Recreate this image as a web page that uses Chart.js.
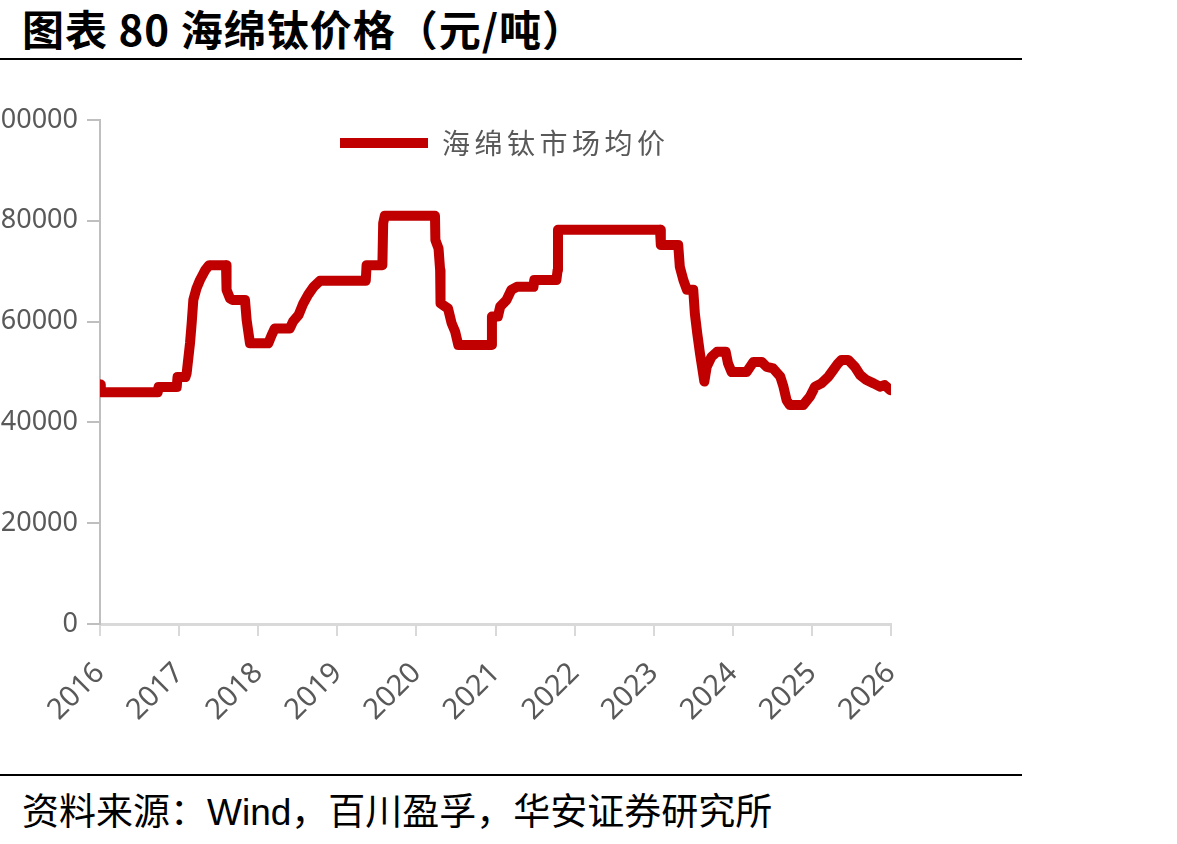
<!DOCTYPE html>
<html>
<head>
<meta charset="utf-8">
<script src="https://cdn.jsdelivr.net/npm/chart.js@4/dist/chart.umd.min.js"></script>
<style>
  html, body { margin: 0; padding: 0; background: #ffffff; }
  body { width: 1177px; height: 844px; position: relative; overflow: hidden; }
  #title { position: absolute; left: 22px; top: 7px; font: bold 42px "Noto Sans CJK SC", sans-serif; line-height: 42px; color: #000; white-space: nowrap; letter-spacing: 1px; }
  .rule { position: absolute; left: 0; width: 1022px; height: 2px; background: #000; }
  #wrap { position: absolute; left: -30px; top: 70px; width: 990px; height: 700px; }
  #footer { position: absolute; left: 22px; top: 791px; font: 37px "Noto Sans CJK SC", sans-serif; line-height: 37px; color: #000; white-space: nowrap; }
  #footer .lat { font-family: "Liberation Sans", sans-serif; }
</style>
</head>
<body>
<div id="title">图表 80 海绵钛价格（元/吨）</div>
<div class="rule" style="top:58px"></div>
<div id="wrap"><canvas id="c" width="990" height="700"></canvas></div>
<div class="rule" style="top:774px"></div>
<div id="footer">资料来源：<span class="lat">Wind</span>，百川盈孚，华安证券研究所</div>
<script>
// ---- data ----
const seriesName = '海绵钛市场均价';
const yearTicks = ['2016','2017','2018','2019','2020','2021','2022','2023','2024','2025','2026'];
const yTicks = [0, 20000, 40000, 60000, 80000, 100000];
const dates = [
  2016.00, 2016.01, 2016.73, 2016.74, 2016.97, 2016.98, 2017.08, 2017.095, 2017.138, 2017.159,
  2017.18, 2017.22, 2017.264, 2017.33, 2017.38, 2017.593, 2017.60, 2017.643, 2017.676, 2017.833,
  2017.854, 2017.875, 2017.896, 2018.128, 2018.17, 2018.21, 2018.40, 2018.44, 2018.51, 2018.57,
  2018.63, 2018.70, 2018.78, 2019.36, 2019.37, 2019.57, 2019.58, 2019.60, 2020.235, 2020.24,
  2020.28, 2020.30, 2020.305, 2020.40, 2020.445, 2020.49, 2020.53, 2020.95, 2020.955, 2021.03,
  2021.06, 2021.14, 2021.20, 2021.27, 2021.48, 2021.49, 2021.77, 2021.785, 2021.79, 2023.08,
  2023.09, 2023.31, 2023.33, 2023.375, 2023.42, 2023.50, 2023.52, 2023.55, 2023.585, 2023.64,
  2023.67, 2023.73, 2023.80, 2023.91, 2023.94, 2023.985, 2024.175, 2024.26, 2024.365, 2024.43,
  2024.51, 2024.60, 2024.64, 2024.68, 2024.72, 2024.89, 2024.975, 2025.04, 2025.12, 2025.21,
  2025.27, 2025.33, 2025.375, 2025.46, 2025.545, 2025.61, 2025.69, 2025.78, 2025.86, 2025.92,
  2025.99
];
const prices = [
  47500, 46000, 46000, 47000, 47000, 49000, 49000, 49700, 55700, 59700,
  64300, 66600, 68250, 70200, 71200, 71200, 66300, 64600, 64300, 64300,
  60300, 58000, 55700, 55700, 57300, 58650, 58650, 60000, 61300, 63600,
  65300, 66900, 68100, 68100, 71200, 71200, 79500, 81000, 81000, 76200,
  74500, 70200, 63600, 62600, 59700, 58000, 55350, 55350, 61000, 61000,
  63000, 64300, 66300, 66900, 66900, 68250, 68250, 70200, 78200, 78200,
  75200, 75200, 70900, 68250, 66300, 66300, 61650, 57700, 53700, 48100,
  51000, 53000, 54000, 54000, 51700, 50000, 50000, 52000, 52000, 51000,
  50700, 49100, 47100, 44400, 43450, 43450, 45100, 47100, 47750, 49100,
  50400, 51700, 52400, 52400, 51000, 49400, 48400, 47750, 47100, 47400,
  46400
];

const points = dates.map((d, i) => ({ x: d, y: prices[i] }));

// legend: letter spacing + placement near the top of the plot
const legendSpacing = {
  id: 'legendSpacing',
  afterInit(chart) {
    const lg = chart.legend;
    if (!lg) return;
    const fit = lg.fit.bind(lg), draw = lg.draw.bind(lg);
    lg.fit = function () {
      const c = chart.ctx; c.save(); c.letterSpacing = '4.5px'; fit(); c.restore();
    };
    lg.draw = function () {
      const c = chart.ctx; c.save(); c.letterSpacing = '4.5px'; c.translate(231, -179); draw(); c.restore();
    };
  }
};

const yFont = { family: '"Noto Sans", "Open Sans", sans-serif', size: 27 };
const xFont = { family: '"Noto Sans", "Open Sans", sans-serif', size: 29 };

new Chart(document.getElementById('c'), {
  type: 'line',
  data: {
    datasets: [{
      label: seriesName,
      data: points,
      borderColor: '#C00000',
      backgroundColor: '#C00000',
      borderWidth: 10,
      pointRadius: 0,
      borderJoinStyle: 'round',
      borderCapStyle: 'round',
      tension: 0,
      fill: false
    }]
  },
  plugins: [legendSpacing],
  options: {
    responsive: false,
    animation: false,
    layout: { padding: { top: 50, right: 69, bottom: 0, left: 0 } },
    plugins: {
      tooltip: { enabled: false },
      legend: {
        position: 'chartArea',
        align: 'center',
        labels: {
          usePointStyle: true,
          pointStyle: 'line',
          pointStyleWidth: 88,
          padding: 9,
          color: '#595959',
          font: { family: '"Noto Sans CJK SC", sans-serif', size: 28 }
        }
      }
    },
    scales: {
      x: {
        type: 'linear',
        min: 2016,
        max: 2026,
        afterBuildTicks(scale) { scale.ticks = yearTicks.map(t => ({ value: Number(t) })); },
        afterFit(scale) { scale.height = 146; },
        ticks: {
          autoSkip: false,
          minRotation: 45,
          maxRotation: 45,
          padding: 20,
          color: '#595959',
          font: xFont,
          callback(v) { return yearTicks[yearTicks.indexOf(String(v))] || String(v); }
        },
        grid: { drawOnChartArea: false, drawTicks: true, tickLength: 12, tickColor: '#D9D9D9', lineWidth: 2 },
        border: { display: true, color: '#D9D9D9', width: 3 }
      },
      y: {
        min: 0,
        max: 100000,
        afterBuildTicks(scale) { scale.ticks = yTicks.map(v => ({ value: v })); },
        afterFit(scale) { scale.width = 130; },
        ticks: {
          padding: 9,
          color: '#595959',
          font: yFont,
          callback(v) { return String(v); }
        },
        grid: { drawOnChartArea: false, drawTicks: true, tickLength: 13, tickColor: '#BFBFBF', lineWidth: 2 },
        border: { display: true, color: '#BFBFBF', width: 2 }
      }
    }
  }
});
</script>
</body>
</html>
